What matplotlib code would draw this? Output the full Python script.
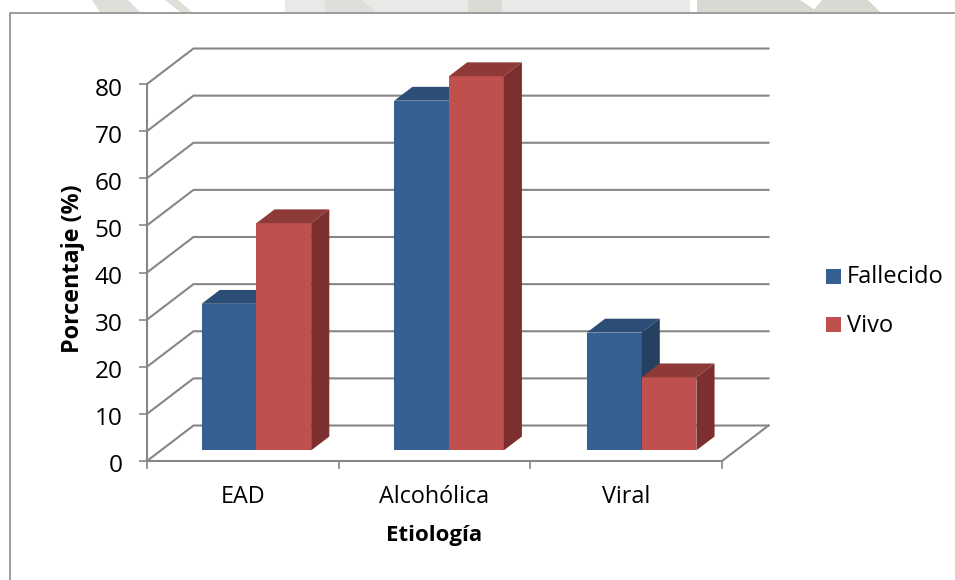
import matplotlib
matplotlib.use('Agg')
import matplotlib.pyplot as plt
from matplotlib.patches import Polygon, Rectangle
from matplotlib.transforms import ScaledTranslation

etiologias = ['EAD', 'Alcohólica', 'Viral']
fallecido = [31.1, 74.2, 25.0]
vivo = [48.2, 79.4, 15.5]
y_ticks = [0, 10, 20, 30, 40, 50, 60, 70, 80]

AZUL = '#376092'
AZUL_TOP = '#2C4D75'
AZUL_SIDE = '#254061'
ROJO = '#BF504D'
ROJO_TOP = '#8E3A38'
ROJO_SIDE = '#7C2F2E'
GRIS = '#868686'

W, H = 955, 580
plt.rcParams['font.family'] = ['Open Sans', 'DejaVu Sans']

fig = plt.figure(figsize=(W / 100, H / 100), dpi=100, facecolor='white')


def px(x, y):
    # pixeles de la imagen a fraccion de figura
    return (x / W, 1 - y / H)


# restos de la marca de agua de la pagina, sobre el marco
for x0, x1, x2, x3, c in [(92, 128, 140, 100, '#DDE0D9'), (165, 178, 192, 180, '#DDE0D9'),
                          (285, 640, 640, 285, '#E8EAE8'), (325, 362, 376, 325, '#DDE0DA'),
                          (468, 502, 502, 468, '#D8DCD5'), (640, 690, 690, 640, '#E8EAE8'),
                          (697, 800, 818, 697, '#D6DAD3'), (822, 868, 880, 812, '#D6DAD3')]:
    fig.add_artist(Polygon([px(x0, 0), px(x1, 0), px(x2, 12), px(x3, 12)], closed=True,
                           fc=c, ec='none', transform=fig.transFigure))

# plano frontal del grafico: x 147-722 px, y 84-461 px
ax = fig.add_axes([147 / W, 1 - 461 / H, 575 / W, 377 / H])
ax.set_xlim(0, 3)
ax.set_ylim(0, 80)
ax.patch.set_alpha(0)

# desplazamiento de la profundidad, en unidades de datos
DX = 0.2426
DY = 7.53
BAR_W = 1 / 3.5
MARGEN = 1.5 / 3.5 / 2
D0, D1 = 0.30, 0.69


def pt(x, y, d):
    return (x + d * DX, y + d * DY)


# rejilla: pared lateral + pared del fondo
for v in y_ticks[1:] + [0]:
    xs, ys = zip(pt(0, v, 0), pt(0, v, 1), pt(3, v, 1))
    ax.plot(xs, ys, color=GRIS, lw=1.5, clip_on=False, zorder=1, solid_joinstyle='miter')
# borde derecho del suelo
xs, ys = zip(pt(3, 0, 0), pt(3, 0, 1))
ax.plot(xs, ys, color=GRIS, lw=1.5, clip_on=False, zorder=1)


def barra(x, val, c, c_top, c_side, z):
    # cara frontal sobre el suelo, desplazada por la profundidad D0
    fx, base = pt(x, 0, D0)
    ax.bar(fx, val, BAR_W, bottom=base, align='edge', color=c, clip_on=False, zorder=z)
    top = val
    ax.add_patch(Polygon([pt(x, top, D0), pt(x + BAR_W, top, D0),
                          pt(x + BAR_W, top, D1), pt(x, top, D1)],
                         closed=True, fc=c_top, ec='none', clip_on=False, zorder=z))
    ax.add_patch(Polygon([pt(x + BAR_W, 0, D0), pt(x + BAR_W, top, D0),
                          pt(x + BAR_W, top, D1), pt(x + BAR_W, 0, D1)],
                         closed=True, fc=c_side, ec='none', clip_on=False, zorder=z))


for i in range(len(etiologias)):
    x_grupo = i * 1.005 + MARGEN - 0.002
    barra(x_grupo, fallecido[i], AZUL, AZUL_TOP, AZUL_SIDE, 3 + i * 2)
    barra(x_grupo + BAR_W, vivo[i], ROJO, ROJO_TOP, ROJO_SIDE, 4 + i * 2)

for s in ['top', 'right']:
    ax.spines[s].set_visible(False)
for s in ['left', 'bottom']:
    ax.spines[s].set_color(GRIS)
    ax.spines[s].set_linewidth(1.5)
    ax.spines[s].set_zorder(2)

ax.set_yticks(y_ticks)
ax.set_xticks([0, 1, 2, 3])
ax.set_xticklabels([])
ax.tick_params(axis='both', color=GRIS, width=1.2, length=5.5, labelcolor='black')
ax.tick_params(axis='y', labelsize=17.6, pad=12)

# las etiquetas del eje y van un poco por debajo de su marca
bajar = ScaledTranslation(0, -2.5 / 100, fig.dpi_scale_trans)
for lab in ax.get_yticklabels():
    lab.set_transform(lab.get_transform() + bajar)

for i, nombre in enumerate(etiologias):
    ax.annotate(nombre, (i + 0.5, 0), xytext=(0, -36), textcoords='offset pixels',
                ha='center', va='center', fontsize=16.8, annotation_clip=False)

fig.text(434 / W, 1 - 536 / H, 'Etiología', ha='center', va='center',
         fontsize=16, fontweight='bold')
fig.text(73 / W, 1 - 269 / H, 'Porcentaje (%)', ha='center', va='center',
         rotation=90, fontsize=16.8, fontweight='bold')

# leyenda
fig.patches.append(Rectangle((826 / W, 1 - 284 / H), 15 / W, 15 / H, fc=AZUL, ec='none',
                             transform=fig.transFigure))
fig.patches.append(Rectangle((826 / W, 1 - 332 / H), 15 / W, 15 / H, fc=ROJO, ec='none',
                             transform=fig.transFigure))
fig.text(847 / W, 1 - 277 / H, 'Fallecido', va='center', fontsize=17)
fig.text(847 / W, 1 - 326 / H, 'Vivo', va='center', fontsize=17)

# marco del grafico, abierto por la derecha y por abajo
fig.add_artist(plt.Line2D([9.5 / W, 9.5 / W, 1], [0, 1 - 12.5 / H, 1 - 12.5 / H],
                          color='#8c8c8c', lw=1.2))

fig.savefig('out.png', dpi=100)
